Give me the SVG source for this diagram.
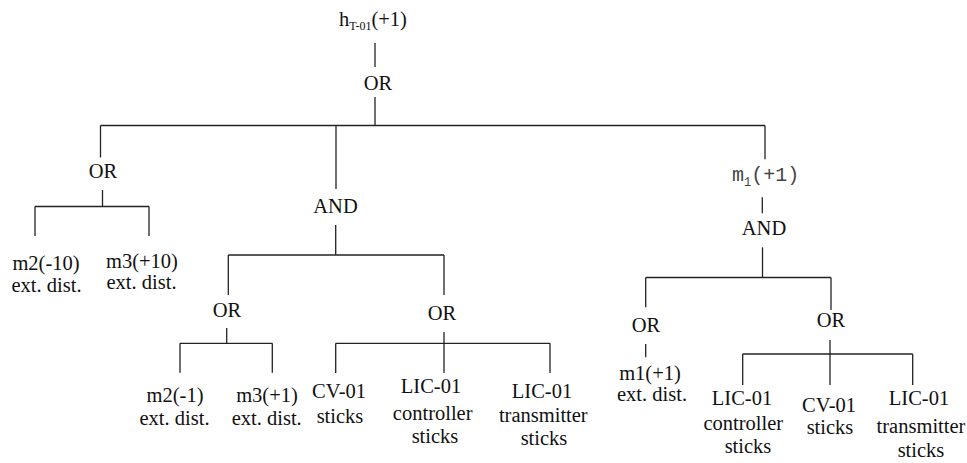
<svg xmlns="http://www.w3.org/2000/svg" width="967" height="463" viewBox="0 0 967 463">
<style>
text{font-family:"Liberation Serif",Tinos,"Times New Roman","DejaVu Serif",serif;font-size:20.5px;fill:#111;text-anchor:middle}
text.mono{font-family:"Liberation Mono",Cousine,"Courier New","DejaVu Sans Mono",monospace;font-size:20px;text-anchor:start;fill:#444}
.sub{font-size:12px}
.conn line{stroke:#222;stroke-width:1.3;fill:none}
</style>
<rect width="967" height="463" fill="#fff"/>
<g class="conn" id="connectors">
<line x1="375" y1="43" x2="375" y2="67"/>
<line x1="375" y1="97" x2="375" y2="125.5"/>
<line x1="100.5" y1="125.5" x2="765" y2="125.5"/>
<line x1="100.5" y1="125.5" x2="100.5" y2="157.5"/>
<line x1="102.5" y1="190" x2="102.5" y2="206.5"/>
<line x1="35" y1="206.5" x2="149" y2="206.5"/>
<line x1="35" y1="206.5" x2="35" y2="236"/>
<line x1="149" y1="206.5" x2="149" y2="236"/>
<line x1="336" y1="125.5" x2="336" y2="189"/>
<line x1="335.7" y1="225" x2="335.7" y2="255"/>
<line x1="228.3" y1="255" x2="444" y2="255"/>
<line x1="228.3" y1="255" x2="228.3" y2="295"/>
<line x1="226.7" y1="328" x2="226.7" y2="343.3"/>
<line x1="180" y1="343.3" x2="272.3" y2="343.3"/>
<line x1="180" y1="343.3" x2="180" y2="372.7"/>
<line x1="272.3" y1="343.3" x2="272.3" y2="372.7"/>
<line x1="444" y1="255" x2="444" y2="295"/>
<line x1="444" y1="332" x2="444" y2="373"/>
<line x1="335.7" y1="343.3" x2="550" y2="343.3"/>
<line x1="335.7" y1="343.3" x2="335.7" y2="373"/>
<line x1="550" y1="343.3" x2="550" y2="373"/>
<line x1="765" y1="125.5" x2="765" y2="159.3"/>
<line x1="762.3" y1="197.3" x2="762.3" y2="213.3"/>
<line x1="762.5" y1="247.3" x2="762.5" y2="277.5"/>
<line x1="645.7" y1="277.5" x2="831" y2="277.5"/>
<line x1="645.7" y1="277.5" x2="645.7" y2="307.3"/>
<line x1="645.7" y1="344" x2="645.7" y2="357.3"/>
<line x1="831" y1="277.5" x2="831" y2="310"/>
<line x1="830" y1="340" x2="830" y2="385"/>
<line x1="742.7" y1="354" x2="912.7" y2="354"/>
<line x1="742.7" y1="354" x2="742.7" y2="385"/>
<line x1="912.7" y1="354" x2="912.7" y2="385"/>
</g>
<g id="top-event"><text x="339" y="25.7" style="text-anchor:start">h<tspan class="sub" dy="4.3">T-01</tspan><tspan dy="-4.3">(+1)</tspan></text></g>
<g id="or-top"><text x="378" y="90">OR</text></g>
<g id="or-left"><text x="103" y="178">OR</text></g>
<g id="leaf-m2-10"><text x="46" y="270">m2(-10)</text><text x="46.5" y="291.7">ext. dist.</text></g>
<g id="leaf-m3-10"><text x="142" y="268">m3(+10)</text><text x="141.5" y="288.5">ext. dist.</text></g>
<g id="and-mid"><text x="335.5" y="213">AND</text></g>
<g id="or-mid-left"><text x="227" y="316.7">OR</text></g>
<g id="leaf-m2-1"><text x="175" y="402">m2(-1)</text><text x="174.5" y="425">ext. dist.</text></g>
<g id="leaf-m3-1"><text x="267" y="402">m3(+1)</text><text x="266.7" y="425">ext. dist.</text></g>
<g id="or-mid-right"><text x="442" y="320">OR</text></g>
<g id="leaf-cv01-a"><text x="339" y="398.3">CV-01</text><text x="340" y="422.7">sticks</text></g>
<g id="leaf-lic01-ctrl-a"><text x="431" y="393.3">LIC-01</text><text x="432.7" y="420">controller</text><text x="435" y="442.7">sticks</text></g>
<g id="leaf-lic01-tx-a"><text x="542" y="398.3">LIC-01</text><text x="543.3" y="421.7">transmitter</text><text x="544" y="445">sticks</text></g>
<g id="m1-event"><text class="mono" x="732" y="180.7">m<tspan class="sub" dy="5">1</tspan><tspan dy="-5">(+1)</tspan></text></g>
<g id="and-right"><text x="764" y="235">AND</text></g>
<g id="or-right-left"><text x="646" y="331.7">OR</text></g>
<g id="leaf-m1"><text x="650" y="380">m1(+1)</text><text x="652" y="401">ext. dist.</text></g>
<g id="or-right-right"><text x="831" y="326.7">OR</text></g>
<g id="leaf-lic01-ctrl-b"><text x="742" y="405">LIC-01</text><text x="743.3" y="430">controller</text><text x="748" y="453.3">sticks</text></g>
<g id="leaf-cv01-b"><text x="829" y="411.7">CV-01</text><text x="830" y="434.3">sticks</text></g>
<g id="leaf-lic01-tx-b"><text x="919" y="405">LIC-01</text><text x="921" y="433.3">transmitter</text><text x="921" y="457.3">sticks</text></g>
</svg>
